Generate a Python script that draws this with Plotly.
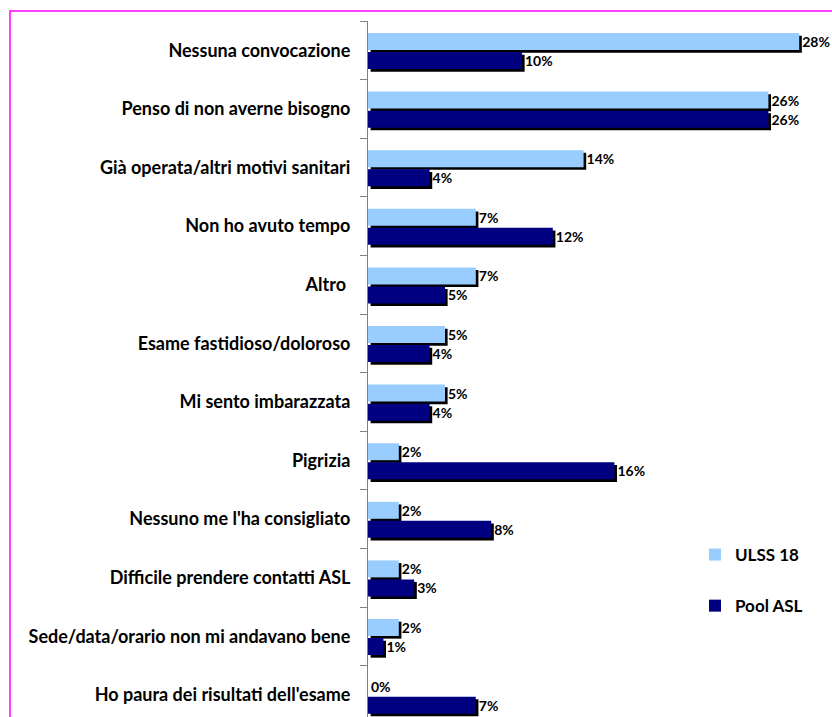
import plotly.graph_objects as go

# Reasons given, listed top to bottom as they appear on the chart
categories = [
    "Nessuna convocazione",
    "Penso di non averne bisogno",
    "Già operata/altri motivi sanitari",
    "Non ho avuto tempo",
    "Altro ",
    "Esame fastidioso/doloroso",
    "Mi sento imbarazzata",
    "Pigrizia",
    "Nessuno me l'ha consigliato",
    "Difficile prendere contatti ASL",
    "Sede/data/orario non mi andavano bene",
    "Ho paura dei risultati dell'esame",
]
ulss18 = [28, 26, 14, 7, 7, 5, 5, 2, 2, 2, 2, 0]
pool_asl = [10, 26, 4, 12, 5, 4, 4, 16, 8, 3, 1, 7]

series_names = ["ULSS 18", "Pool ASL"]
series_colors = ["#99CCFF", "#000080"]

# category axis runs bottom-up, so feed everything reversed
cats = categories[::-1]
values = [ulss18[::-1], pool_asl[::-1]]

BAR_W = 0.29
offsets = [0.005, -0.32]
SHADOW_DX = 0.17   # % units
SHADOW_DY = 0.045  # category units

W, H = 832, 717
ML, MR, MT, MB = 368, 2, 21, 0
plot_w = W - ML - MR
plot_h = H - MT - MB
cat_px = 58.6

fig = go.Figure()

# drop shadows behind the bars
for vals, off in zip(values, offsets):
    fig.add_trace(go.Bar(
        y=cats, x=vals, orientation="h",
        base=SHADOW_DX, offset=off - SHADOW_DY, width=BAR_W,
        marker=dict(color="black", line=dict(width=0)),
        showlegend=False, hoverinfo="skip",
    ))

for i, (name, vals, col, off) in enumerate(zip(series_names, values, series_colors, offsets)):
    fig.add_trace(go.Bar(
        y=cats, x=vals, orientation="h", name=name,
        offset=off, width=BAR_W,
        marker=dict(color=col, line=dict(width=0)),
        text=[f"{v}%" for v in vals], textposition="outside",
        textfont=dict(family="Lato", size=14, color="black", weight="bold"),
        cliponaxis=False, legendgroup=name,
    ))

top = len(cats) - 0.5
bottom = top - plot_h / cat_px

fig.update_layout(
    width=W, height=H,
    margin=dict(l=ML, r=MR, t=MT, b=MB, pad=0),
    barmode="overlay",
    plot_bgcolor="white", paper_bgcolor="white",
    xaxis=dict(range=[0, plot_w / 15.4], visible=False, fixedrange=True),
    yaxis=dict(
        type="category", categoryorder="array", categoryarray=cats,
        range=[bottom, top],
        showline=True, linecolor="#808080", linewidth=1,
        ticks="outside", ticklen=7, tickcolor="#808080", tickson="boundaries",
        tickfont=dict(family="Lato", size=18, color="black", weight="bold"),
        ticklabelstandoff=13,
        showgrid=False, zeroline=False,
    ),
    legend=dict(
        x=(695 - ML) / plot_w, y=(H - 537) / plot_h, xanchor="left", yanchor="top",
        font=dict(family="Lato", size=17, color="black", weight="bold"),
        tracegroupgap=26, bgcolor="rgba(0,0,0,0)",
    ),
    showlegend=True,
    shapes=[dict(
        type="rect", xref="paper", yref="paper",
        x0=(10 - ML) / plot_w, x1=(W + 20 - ML) / plot_w,
        y0=-0.2, y1=1 + (MT - 11) / plot_h,
        line=dict(color="#FF00FF", width=1.5), layer="above",
    )],
)

fig.write_html("out.html")
